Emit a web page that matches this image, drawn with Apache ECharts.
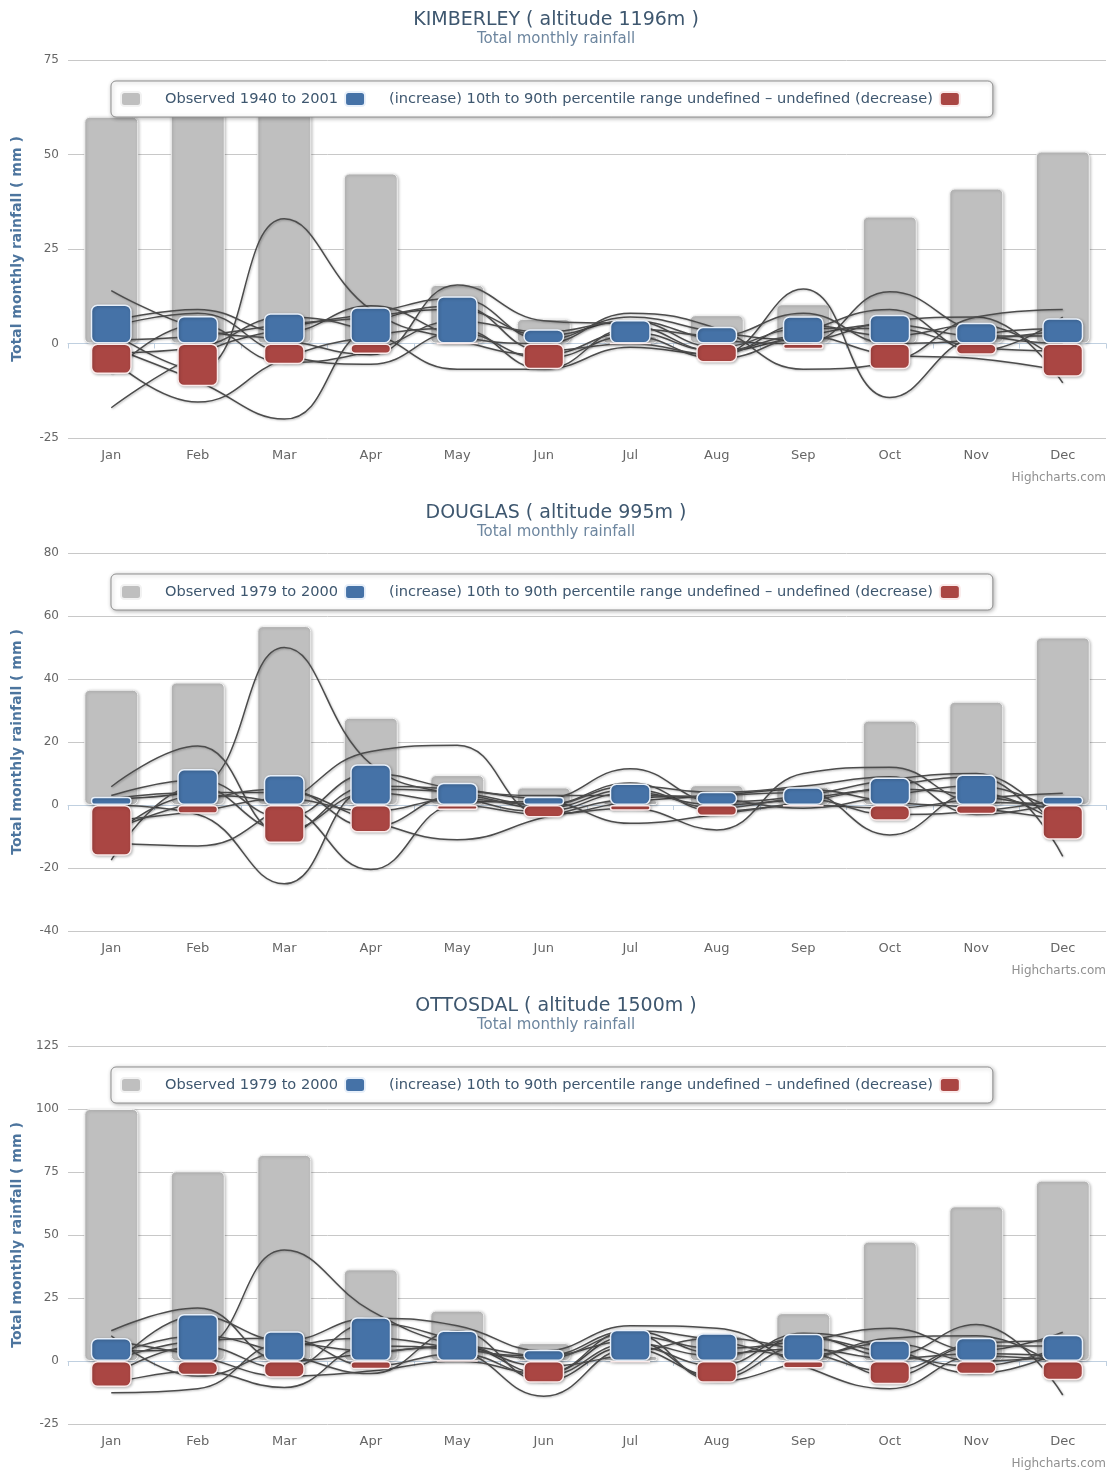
<!DOCTYPE html>
<html>
<head>
<meta charset="utf-8">
<script src="https://cdn.jsdelivr.net/npm/echarts@6/dist/echarts.min.js"></script>
<style>
  html, body { margin: 0; padding: 0; background: #fff; }
  .chart { position: absolute; left: 0; width: 1112px; height: 493px; }
</style>
</head>
<body>
<div id="kimberley" class="chart" style="top:0px"></div>
<div id="douglas" class="chart" style="top:493px"></div>
<div id="ottosdal" class="chart" style="top:986px"></div>
<script>
// Month categories shared by all three stations
const months = ['Jan', 'Feb', 'Mar', 'Apr', 'May', 'Jun', 'Jul', 'Aug', 'Sep', 'Oct', 'Nov', 'Dec'];

const rangeLabel = '(increase) 10th to 90th percentile range undefined \u2013 undefined (decrease)';

// ---- KIMBERLEY ----
const kimberleyTitle = 'KIMBERLEY ( altitude 1196m )';
const kimberleyObservedLabel = 'Observed 1940 to 2001';
const kimberleyObserved = [60, 64, 67, 45, 15.5, 6.5, 2, 7.5, 10.4, 33.6, 41, 50.8];
const kimberleyIncrease = [10.3, 7.3, 8.0, 9.6, 12.5, 3.8, 6.2, 4.4, 7.2, 7.6, 5.5, 6.7];
const kimberleyDecrease = [-8.1, -11.3, -5.5, -2.8, 0, -6.8, 0, -5, -1.5, -6.8, -3, -8.8];
const kimberleyModels = [
  [3, -7, 33, 9, 1, -3, 3, -2, 2, 5, 2, 2],
  [-1, -10, -20, 5, 9, 2, 6, 1, 0, 13.7, 3, 0],
  [-4, -15.5, -4, 2, 4, -6.8, -1, -3, 14.4, -14.3, 2, 4],
  [-17, -3, 4, 8, 12, 1, 7, 3, 1, 6, 7, -10.4],
  [14, 4, 1, -3, 15.5, 6, 5, -2, 2, -3, -4, -7.3],
  [6, 9, 3, 10, 2, 0, 8, 4, -6.8, -5, 7, 9],
  [4.5, 8, -3, -5.5, 3, -4, 2, -4, 3, 9, -2, 7],
  [1, 2, 5, 7, 10, -2, 0, -3, 5, 2, 5, -5.5],
  [-2.5, -1, 7, 3, -6.8, -6.8, 4, 2, 8, 0, 1, 3.5],
  [-8, 5, -5, -2, 6, 3, 6, -1, 4, 4, -1, -2]
];
const kimberleyAxis = { min: -25, max: 75, interval: 25 };

// ---- DOUGLAS ----
const douglasTitle = 'DOUGLAS ( altitude 995m )';
const douglasObservedLabel = 'Observed 1979 to 2000';
const douglasObserved = [36.6, 38.9, 56.8, 27.7, 9.5, 5.6, 1.5, 6.3, 5.8, 26.8, 32.8, 53.2];
const douglasIncrease = [2.6, 11.4, 9.5, 12.9, 7.1, 2.6, 6.8, 4.2, 5.6, 8.7, 9.7, 2.8];
const douglasDecrease = [-16.1, -2.8, -12.1, -8.7, -1.6, -4, -1.8, -3.5, -0.5, -5, -2.9, -11];
const douglasModels = [
  [2, 5, 50, 13, 3, -2, 4, 0, 2, 5, 3, -2],
  [0, -3, -25, 5, 4, 0, 7, -2, 0, -1, 2, 3.7],
  [-10, 3, 0, -20.5, 0, -3, 1, 3, 5, 1, -1, -4.7],
  [5.8, 18.7, -9, 6, 5, 2, 11.5, 1, 3, 8, 10, -10],
  [-12, -13, 0, 17, 19, -3, -1, -7.9, 10, 12, 1, 0.5],
  [2, 4, 4, -5, -11, -4, 2, 3, 4, -9.5, 4, -6.8],
  [-17.5, 6, -8, 4, 1, 1, -5.8, -3, 1, 6, 9, -16.3],
  [-8, 1, 5, -7, 3, -1, 5, -1, 2, -3, -2, 2],
  [3, 8, -4, 10, 5, 3, 3, 2, -1, 3, 6, -3],
  [-5, -2, 2, -2, 2, 0, 6, 4, 6, 9, -3, 1]
];
const douglasAxis = { min: -40, max: 80, interval: 20 };

// ---- OTTOSDAL ----
const ottosdalTitle = 'OTTOSDAL ( altitude 1500m )';
const ottosdalObservedLabel = 'Observed 1979 to 2000';
const ottosdalObserved = [100, 75.3, 81.8, 36.4, 20, 7.1, 2, 10, 19, 47.4, 61.4, 71.6];
const ottosdalIncrease = [9.1, 18.7, 11.8, 17.4, 12.1, 4.5, 12.4, 11, 10.8, 8.2, 9.2, 10.4];
const ottosdalDecrease = [-10.3, -5.7, -6.6, -3.3, 0, -8.6, -0.5, -8.6, -3, -9.2, -5.3, -7.6];
const ottosdalModels = [
  [4, 5, 44, 20, 6, 2, 12, 3, 5, 1, 3, 2],
  [12, 21, 0, 3, 6, -5, 10, 5, 8, 13, 4, 11.4],
  [-3.7, 18, 8, 17, 14, 4, 14, 13, -2, -11, 2, 0],
  [-9, -4, -10.5, 6, 4, -14, 5, -6, 10, 2, 14.5, -13.5],
  [-12.6, -11, 7, 4, 6, 2, 8, -7, 6, -6, 6, 6],
  [8, 2, -6, -4, 0, -5, 12, 8, 2, 9, 10, -3.7],
  [2, 10, 3, -5, 12, -8, 6, -2, 11, 5, -5, 4],
  [-6, 6, -3, 15, 8, -2, 3, 9, 4, -4, 7, 8],
  [10, -6, 5, 9, 5, 1, 11, -8, 0, 7, 0, 2],
  [0, 8, 9, -2, 3, -6, 7, 2, 9, 3, -2, 6]
];
const ottosdalAxis = { min: -25, max: 125, interval: 25 };

const FONT = '"DejaVu Sans", "Lucida Grande", sans-serif';
const barShadow = { shadowBlur: 3, shadowColor: 'rgba(0,0,0,0.25)', shadowOffsetX: 1, shadowOffsetY: 1 };

function buildOption(title, observedLabel, observed, increase, decrease, models, axis) {
  const decreaseName = 'decrease';
  const series = [
    {
      name: observedLabel, type: 'bar', xAxisIndex: 1, data: observed,
      barWidth: 54, z: 1, silent: true,
      itemStyle: Object.assign({ color: '#BFBFBF', borderColor: '#f2f2f2', borderWidth: 1, borderRadius: 5 }, barShadow)
    }
  ];
  models.forEach(function (m) {
    series.push({
      type: 'line', data: m, smooth: 0.45, symbol: 'none', z: 2, silent: true,
      lineStyle: { color: '#4c4c4c', width: 1.5, shadowBlur: 2, shadowColor: 'rgba(0,0,0,0.25)', shadowOffsetX: 1, shadowOffsetY: 1 }
    });
  });
  series.push({
    name: rangeLabel, type: 'bar', data: increase, barWidth: 41, barGap: '-100%', z: 3, silent: true,
    itemStyle: Object.assign({ color: '#4572A7', borderColor: '#e8f0fa', borderWidth: 1.5, borderRadius: 6 }, barShadow)
  });
  series.push({
    name: decreaseName, type: 'bar', data: decrease, barWidth: 41, barGap: '-100%', z: 3, silent: true,
    itemStyle: Object.assign({ color: '#AA4643', borderColor: '#faeaea', borderWidth: 1.5, borderRadius: 6 }, barShadow)
  });

  return {
    animation: false,
    backgroundColor: '#ffffff',
    textStyle: { fontFamily: FONT },
    title: {
      text: title, subtext: 'Total monthly rainfall', left: 'center', top: 6, itemGap: 2,
      textStyle: { fontFamily: FONT, fontSize: 19, fontWeight: 'normal', color: '#3E576F' },
      subtextStyle: { fontFamily: FONT, fontSize: 15, color: '#6D869F' }
    },
    legend: {
      left: 111, top: 81,
      data: [observedLabel, rangeLabel, decreaseName],
      formatter: function (name) { return name === decreaseName ? '' : name; },
      icon: 'roundRect', itemWidth: 20, itemHeight: 14, itemGap: 6,
      padding: [10, 32, 10, 9],
      backgroundColor: '#ffffff', borderColor: '#909090', borderWidth: 1, borderRadius: 5,
      shadowBlur: 4, shadowColor: 'rgba(0,0,0,0.3)', shadowOffsetX: 1, shadowOffsetY: 1,
      selectedMode: false,
      textStyle: { fontFamily: FONT, fontSize: 14.6, color: '#3E576F', padding: [0, 0, 0, 19] }
    },
    grid: { left: 68, right: 6, top: 60, bottom: 55 },
    xAxis: [
      {
        type: 'category', data: months,
        axisLine: { lineStyle: { color: '#C0D0E0', width: 1 } },
        axisTick: { show: true, length: 5, lineStyle: { color: '#C0D0E0' } },
        axisLabel: { color: '#666666', fontSize: 13, margin: 11, fontFamily: FONT }
      },
      {
        type: 'category', data: months, show: false, position: 'bottom'
      }
    ],
    yAxis: {
      type: 'value', min: axis.min, max: axis.max, interval: axis.interval,
      name: 'Total monthly rainfall ( mm )', nameLocation: 'middle', nameGap: 44,
      nameTextStyle: { color: '#4d759e', fontWeight: 'bold', fontSize: 14, fontFamily: FONT },
      axisLine: { show: false }, axisTick: { show: false },
      axisLabel: { color: '#666666', fontSize: 12, margin: 9, fontFamily: FONT },
      splitLine: { lineStyle: { color: '#C8C8C8', width: 1 } }
    },
    graphic: [{
      type: 'text', right: 6, top: 472,
      style: { text: 'Highcharts.com', fill: '#909090', font: '12px ' + FONT }
    }],
    series: series
  };
}

const stations = [
  ['kimberley', kimberleyTitle, kimberleyObservedLabel, kimberleyObserved, kimberleyIncrease, kimberleyDecrease, kimberleyModels, kimberleyAxis],
  ['douglas', douglasTitle, douglasObservedLabel, douglasObserved, douglasIncrease, douglasDecrease, douglasModels, douglasAxis],
  ['ottosdal', ottosdalTitle, ottosdalObservedLabel, ottosdalObserved, ottosdalIncrease, ottosdalDecrease, ottosdalModels, ottosdalAxis]
];

stations.forEach(function (s) {
  const chart = echarts.init(document.getElementById(s[0]), null, { renderer: 'canvas' });
  chart.setOption(buildOption(s[1], s[2], s[3], s[4], s[5], s[6], s[7]));
});
</script>
</body>
</html>
